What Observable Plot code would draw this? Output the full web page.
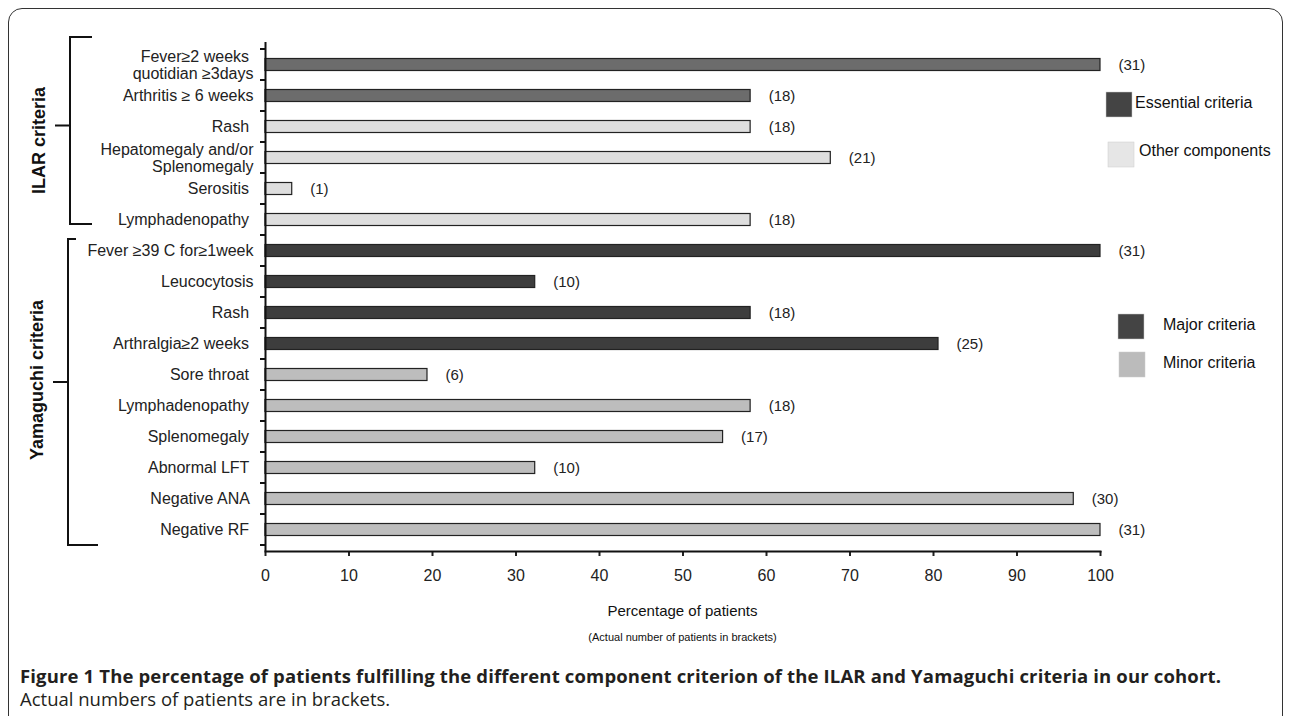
<!DOCTYPE html>
<html>
<head>
<meta charset="utf-8">
<script src="https://cdn.jsdelivr.net/npm/d3@7"></script>
<script src="https://cdn.jsdelivr.net/npm/@observablehq/plot@0.6"></script>
<style>
  html, body { margin: 0; padding: 0; background: #fff; overflow: hidden; }
  #wrap { position: relative; width: 1292px; height: 716px; }
  #border { position: absolute; left: 8px; top: 8px; width: 1275px; height: 760px;
    border: 1.5px solid #333; border-radius: 14px; box-sizing: border-box; }
  #chart { position: absolute; left: 0; top: 0; }
  #caption { position: absolute; left: 20px; top: 664px; width: 1270px; white-space: nowrap;
    font-family: "Open Sans", "Noto Sans", sans-serif; font-size: 18.5px; color: #231f20; line-height: 23px; }
  #caption b { font-weight: 700; letter-spacing: 0.15px; }
</style>
</head>
<body>
<div id="wrap">
  <div id="border"></div>
  <div id="chart"></div>
  <div id="caption"><b>Figure 1 The percentage of patients fulfilling the different component criterion of the ILAR and Yamaguchi criteria in our cohort.</b><br>Actual numbers of patients are in brackets.</div>
</div>
<script>
// ---- data ----
const criteria = [
  "Fever≥2 weeks \nquotidian ≥3days",
  "Arthritis ≥ 6 weeks",
  "Rash ",
  "Hepatomegaly and/or\nSplenomegaly",
  "Serositis ",
  "Lymphadenopathy ",
  "Fever ≥39 C for≥1week",
  "Leucocytosis",
  "Rash ",
  "Arthralgia≥2 weeks ",
  "Sore throat ",
  "Lymphadenopathy ",
  "Splenomegaly ",
  "Abnormal LFT ",
  "Negative ANA ",
  "Negative RF "
];
const percent = [100, 58.1, 58.1, 67.7, 3.2, 58.1, 100, 32.3, 58.1, 80.6, 19.4, 58.1, 54.8, 32.3, 96.8, 100];
const patients = [31, 18, 18, 21, 1, 18, 31, 10, 18, 25, 6, 18, 17, 10, 30, 31];
const component = [
  "Essential criteria", "Essential criteria", "Other components", "Other components", "Other components", "Other components",
  "Major criteria", "Major criteria", "Major criteria", "Major criteria",
  "Minor criteria", "Minor criteria", "Minor criteria", "Minor criteria", "Minor criteria", "Minor criteria"
];
const componentTypes = ["Essential criteria", "Other components", "Major criteria", "Minor criteria"];
const barColors = ["#6c6c6c", "#dedede", "#3d3d3d", "#bdbdbd"];
const legendColors = ["#444444", "#e6e6e6", "#444444", "#bbbbbb"];
const groupNames = ["ILAR criteria", "Yamaguchi criteria"];
const groupFirst = [0, 6];
const groupLast = [5, 15];
const xTicks = [0, 10, 20, 30, 40, 50, 60, 70, 80, 90, 100];

const keys = criteria.map((_, i) => String(i));
const rows = keys.map((k, i) => ({key: k, percent: percent[i], n: patients[i], type: component[i]}));

const labelFont = "'Liberation Sans', Arial, sans-serif";
const narrowFont = "'Liberation Sans Narrow', 'Arial Narrow', 'Liberation Sans', sans-serif";

const chart = Plot.plot({
  width: 1292,
  height: 660,
  marginLeft: 265,
  marginRight: 192,
  marginTop: 42,
  marginBottom: 109,
  style: {fontFamily: labelFont, fontSize: "16px", color: "#222", background: "transparent"},
  x: {domain: [0, 100]},
  y: {domain: keys, padding: 0},
  color: {domain: componentTypes, range: barColors},
  marks: [
    Plot.barX(rows, {x: "percent", y: "key", fill: "type", stroke: "#222", strokeWidth: 1.2, insetTop: 9.5, insetBottom: 9.5}),
    Plot.text(rows, {x: "percent", y: "key", text: d => `(${d.n})`, dx: 18, textAnchor: "start", fontSize: 15, fill: "#222"}),
    Plot.axisY({tickSize: 0, tickPadding: 12, tickFormat: k => criteria[+k], fontSize: 16, lineHeight: 1.05, label: null}),
    Plot.axisX({ticks: xTicks, tickSize: 5, tickPadding: 13, fontSize: 16, fontFamily: narrowFont, label: null, strokeWidth: 2}),
    Plot.ruleX([0], {stroke: "#111", strokeWidth: 2}),
    Plot.frame({anchor: "bottom", stroke: "#111", strokeWidth: 2})
  ]
});
document.getElementById("chart").appendChild(chart);

// ---- annotations drawn from the plot's scales ----
const svg = d3.select(chart);
const ys = chart.scale("y");
const xs = chart.scale("x");
const bw = ys.bandwidth;
const x0 = xs.apply(0);

// y-axis ticks at band boundaries
const bounds = keys.map(k => ys.apply(k)).concat([ys.apply(keys[keys.length - 1]) + bw]);
svg.append("g").selectAll("line").data(bounds).join("line")
  .attr("x1", x0 - 5).attr("x2", x0).attr("y1", d => d).attr("y2", d => d)
  .attr("stroke", "#111").attr("stroke-width", 2);

// group brackets and labels
const bracketCfg = [
  {top: ys.apply(String(groupFirst[0])) - 12, bottom: ys.apply(String(groupLast[0])) + bw - 11, x: 70, hookTop: 22, hookBottom: 22, mid: -5, textShift: 15},
  {top: ys.apply(String(groupFirst[1])) + 4, bottom: ys.apply(String(groupLast[1])) + bw, x: 68, hookTop: 8, hookBottom: 30, mid: -10, textShift: -2}
];
groupNames.forEach((name, i) => {
  const c = bracketCfg[i];
  const g = svg.append("g").attr("stroke", "#111").attr("stroke-width", 2).attr("fill", "none");
  const m = (c.top + c.bottom) / 2 + c.mid;
  g.append("path").attr("d",
    `M${c.x + c.hookTop},${c.top}H${c.x}V${c.bottom}H${c.x + c.hookBottom}M${c.x - 15},${m}H${c.x}`);
  svg.append("text")
    .attr("transform", `translate(${c.x - 30},${m + c.textShift}) rotate(-90)`)
    .attr("text-anchor", "middle").attr("dominant-baseline", "middle")
    .attr("font-family", labelFont).attr("font-size", 18).attr("font-weight", "bold").attr("fill", "#111")
    .text(name);
});

// legends
const legendItems = [
  {i: 0, sx: 1106, sy: 92, tx: 1135, ty: 104},
  {i: 1, sx: 1108, sy: 142, tx: 1139, ty: 152},
  {i: 2, sx: 1118, sy: 314, tx: 1163, ty: 326},
  {i: 3, sx: 1119, sy: 352, tx: 1163, ty: 364}
];
legendItems.forEach(d => {
  svg.append("rect").attr("x", d.sx).attr("y", d.sy).attr("width", 26).attr("height", 25)
    .attr("fill", legendColors[d.i]).attr("stroke", "#ccc").attr("stroke-width", 0.5);
  svg.append("text").attr("x", d.tx).attr("y", d.ty).attr("dominant-baseline", "middle")
    .attr("text-anchor", "start")
    .attr("font-family", labelFont).attr("font-size", 16).attr("fill", "#111").text(componentTypes[d.i]);
});

// x axis titles
const xc = (xs.apply(0) + xs.apply(100)) / 2;
svg.append("text").attr("x", xc).attr("y", 616).attr("text-anchor", "middle")
  .attr("font-family", narrowFont).attr("font-size", 15).attr("fill", "#111").text("Percentage of patients");
svg.append("text").attr("x", xc).attr("y", 641).attr("text-anchor", "middle")
  .attr("font-family", narrowFont).attr("font-size", 11).attr("fill", "#111").text("(Actual number of patients in brackets)");
</script>
</body>
</html>
